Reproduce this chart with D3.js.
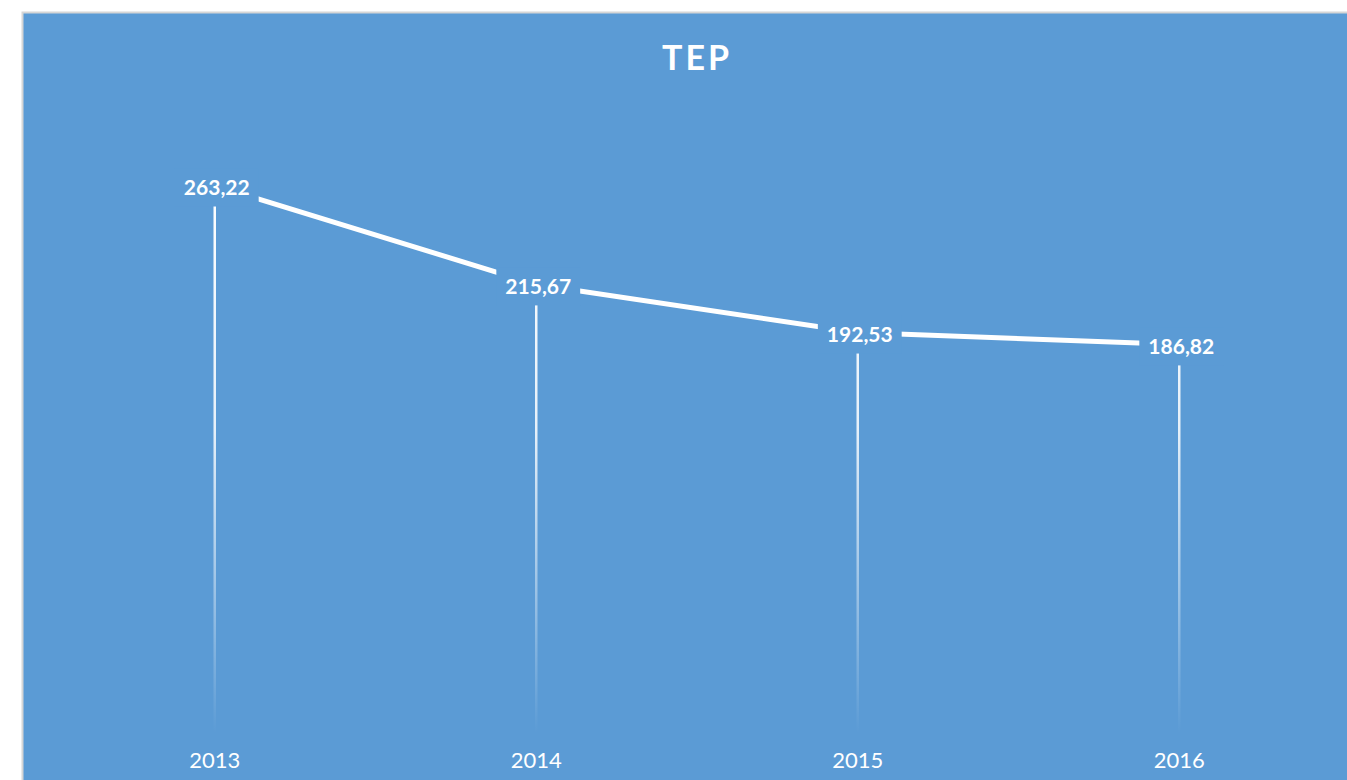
<!DOCTYPE html>
<html>
<head>
<meta charset="utf-8">
<script src="https://cdn.jsdelivr.net/npm/d3@7"></script>
<style>
  body { margin: 0; background: #fff; }
  svg { display: block; }
</style>
</head>
<body>
<div id="chart"></div>
<script>
  // data
  const years = ["2013", "2014", "2015", "2016"];
  const tep = [263.22, 215.67, 192.53, 186.82];
  const labels = ["263,22", "215,67", "192,53", "186,82"];
  const title = "TEP";

  let width = 1347,
    height = 780;

  let svg = d3.select("#chart")
    .append("svg")
    .attr("width", width)
    .attr("height", height);

  // chart area with a thin grey border on top / left
  svg.append("rect")
    .attr("x", 22.5)
    .attr("y", 12.5)
    .attr("width", width)
    .attr("height", height)
    .attr("fill", "#5b9bd5")
    .attr("stroke", "#d6d6d6")
    .attr("stroke-width", 2);

  let x = d3.scalePoint()
    .domain(years)
    .range([54, 1340])
    .padding(0.5);

  let y = d3.scaleLinear()
    .domain([0, 300])
    .range([733, 109]);

  let data = years.map(function(d, i) {
    return { year: d, value: tep[i], label: labels[i] };
  });

  // fading gradient for the drop lines
  let defs = svg.append("defs");
  let grad = defs.append("linearGradient")
    .attr("id", "dropFade")
    .attr("gradientUnits", "userSpaceOnUse")
    .attr("x1", 0).attr("x2", 0)
    .attr("y1", 180).attr("y2", y(0));
  grad.append("stop").attr("offset", "0").attr("stop-color", "#fff").attr("stop-opacity", 1);
  grad.append("stop").attr("offset", "0.45").attr("stop-color", "#fff").attr("stop-opacity", 0.85);
  grad.append("stop").attr("offset", "1").attr("stop-color", "#fff").attr("stop-opacity", 0);

  svg.selectAll(".drop")
    .data(data)
    .enter().append("line")
    .attr("class", "drop")
    .attr("x1", function(d) { return x(d.year); })
    .attr("x2", function(d) { return x(d.year); })
    .attr("y1", function(d) { return y(d.value); })
    .attr("y2", y(0))
    .attr("stroke", "url(#dropFade)")
    .attr("stroke-width", 2.5);

  let line = d3.line()
    .x(function(d) { return x(d.year); })
    .y(function(d) { return y(d.value); });

  svg.append("path")
    .datum(data)
    .attr("d", line)
    .attr("fill", "none")
    .attr("stroke", "#fff")
    .attr("stroke-width", 5)
    .attr("stroke-linejoin", "round");

  // data labels, boxed in the background colour so they cut the lines
  let lab = svg.selectAll(".lab")
    .data(data)
    .enter().append("g")
    .attr("class", "lab")
    .attr("transform", function(d) {
      return "translate(" + (x(d.year) + 2) + "," + (y(d.value) + 2) + ")";
    });

  lab.append("text")
    .attr("text-anchor", "middle")
    .attr("dy", "0.35em")
    .attr("font-family", "Lato, 'Open Sans', sans-serif")
    .attr("font-weight", "bold")
    .attr("font-size", 21)
    .attr("fill", "#fff")
    .text(function(d) { return d.label; });

  lab.insert("rect", "text")
    .attr("fill", "#5b9bd5")
    .each(function() {
      let bb = this.parentNode.querySelector("text").getBBox();
      d3.select(this)
        .attr("x", bb.x - 9)
        .attr("y", -19)
        .attr("width", bb.width + 18)
        .attr("height", 38);
    });

  // year labels
  svg.selectAll(".year")
    .data(years)
    .enter().append("text")
    .attr("class", "year")
    .attr("x", function(d) { return x(d); })
    .attr("y", 768)
    .attr("text-anchor", "middle")
    .attr("font-family", "Lato, 'Open Sans', sans-serif")
    .attr("font-size", 22)
    .attr("fill", "#fff")
    .text(function(d) { return d; });

  svg.append("text")
    .attr("x", 697)
    .attr("y", 70)
    .attr("text-anchor", "middle")
    .attr("font-family", "Lato, 'Open Sans', sans-serif")
    .attr("font-weight", "bold")
    .attr("font-size", 34)
    .attr("letter-spacing", 3)
    .attr("fill", "#fff")
    .text(title);
</script>
</body>
</html>
